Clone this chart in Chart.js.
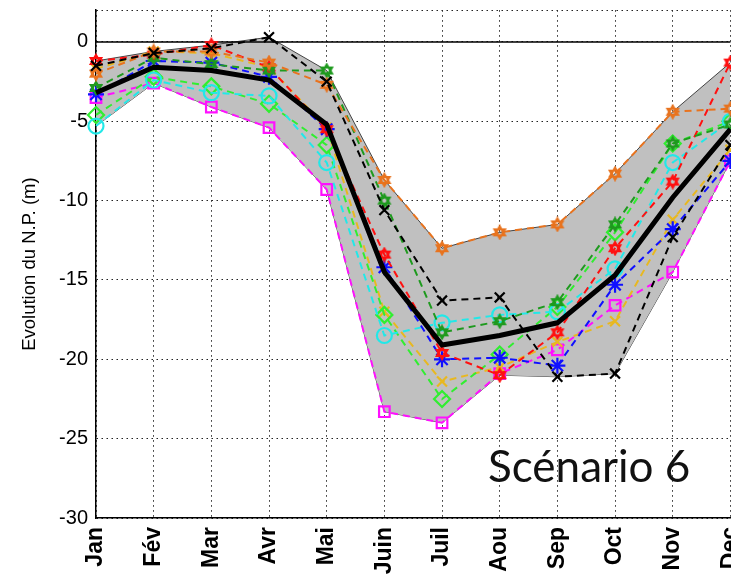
<!DOCTYPE html>
<html>
<head>
<meta charset="utf-8">
<script src="https://cdn.jsdelivr.net/npm/chart.js@4/dist/chart.umd.min.js"></script>
<style>
  html, body { margin: 0; padding: 0; background: #fff; overflow: hidden; }
  #wrap { width: 767px; height: 581px; }
</style>
</head>
<body>
<div id="wrap"><canvas id="npChart" width="767" height="581"></canvas></div>
<script>
// months and y ticks
const months = ['Jan', 'Fév', 'Mar', 'Avr', 'Mai', 'Juin', 'Juil', 'Aou', 'Sep', 'Oct', 'Nov', 'Dec'];
const yTicks = [-30, -25, -20, -15, -10, -5, 0, 2];

// one array per run (m)
const blackX    = [-1.5, -0.7, -0.4,  0.3, -2.5, -10.6, -16.3, -16.1, -21.1, -20.9, -12.3, -6.5];
const orange    = [-2.0, -0.6, -0.6, -1.3, -2.7,  -8.7, -13.0, -12.0, -11.5,  -8.3,  -4.4, -4.2];
const darkGreen = [-2.9, -1.0, -1.4, -1.8, -1.8, -10.0, -18.3, -17.6, -16.4, -11.5,  -6.4, -5.2];
const red       = [-1.2, -0.8, -0.2, -1.6, -5.5, -13.4, -19.6, -21.0, -18.3, -13.0,  -8.8, -1.3];
const blue      = [-3.3, -1.2, -1.3, -2.2, -5.5, -14.2, -20.0, -19.9, -20.4, -15.3, -11.8, -7.5];
const cyan      = [-5.3, -2.4, -3.2, -3.4, -7.6, -18.5, -17.7, -17.2, -17.0, -14.3,  -7.6, -5.0];
const green     = [-4.6, -2.2, -2.8, -3.9, -6.5, -17.2, -22.5, -19.7, -16.7, -12.0,  -6.4, -5.0];
const yellow    = [-1.7, -0.6, -0.7, -1.6, -5.4, -17.0, -21.4, -20.5, -18.9, -17.6, -11.2, -6.8];
const magenta   = [-3.5, -2.6, -4.1, -5.4, -9.3, -23.3, -24.0, -20.9, -19.4, -16.6, -14.5, -7.5];
const mean      = [-3.2, -1.6, -1.8, -2.4, -5.2, -14.5, -19.1, -18.5, -17.7, -14.7,  -9.8, -5.5];

const runs = [blackX, orange, darkGreen, red, blue, cyan, green, yellow, magenta];
const upper = months.map((m, i) => Math.max(...runs.map(r => r[i])));
const lower = months.map((m, i) => Math.min(...runs.map(r => r[i])));

// matlab-like hexagram marker
function hexagram(color) {
    const c = document.createElement('canvas');
    c.width = 16; c.height = 16;
    const g = c.getContext('2d');
    g.strokeStyle = color;
    g.lineWidth = 2.2;
    [-Math.PI / 2, Math.PI / 2].forEach(a0 => {
        g.beginPath();
        for (let k = 0; k < 3; k++) {
            const a = a0 + k * 2 * Math.PI / 3;
            const x = 8 + 6 * Math.cos(a), y = 8 + 6 * Math.sin(a);
            k ? g.lineTo(x, y) : g.moveTo(x, y);
        }
        g.closePath();
        g.stroke();
    });
    return c;
}

function run(data, color, style, radius) {
    return {
        data: data,
        borderColor: color,
        backgroundColor: 'rgba(0,0,0,0)',
        borderWidth: 2,
        borderDash: [7, 5],
        pointStyle: style,
        pointRadius: radius,
        pointBorderColor: color,
        pointBorderWidth: 2.2,
        fill: false
    };
}

const scenarioText = {
    id: 'scenarioText',
    afterDraw(chart) {
        const ctx = chart.ctx;
        ctx.save();
        ctx.font = '44px Lato';
        ctx.fillStyle = '#111';
        ctx.textBaseline = 'alphabetic';
        ctx.fillText('Scénario 6', 488, 482);
        ctx.restore();
    }
};

new Chart(document.getElementById('npChart'), {
    type: 'line',
    data: {
        labels: months,
        datasets: [
            { data: mean, borderColor: '#000', borderWidth: 5, pointRadius: 0, fill: false },
            run(blackX, '#000000', 'crossRot', 7),
            run(orange, '#E8731E', hexagram('#E8731E'), 8),
            run(darkGreen, '#1E9A1E', hexagram('#1E9A1E'), 8),
            run(red, '#FF1010', hexagram('#FF1010'), 8),
            run(blue, '#1010FF', 'star', 8),
            run(cyan, '#22E8E8', 'circle', 7.5),
            run(green, '#30EE30', 'rectRot', 8),
            run(yellow, '#E8B820', 'crossRot', 7),
            run(magenta, '#FF10FF', 'rect', 7.5),
            { data: months.map(() => 0), borderColor: '#000', borderWidth: 1.5, pointRadius: 0, fill: false },
            { data: upper, borderColor: '#444', borderWidth: 1, pointRadius: 0, fill: '+1', backgroundColor: '#C0C0C0' },
            { data: lower, borderColor: '#444', borderWidth: 1, pointRadius: 0, fill: false }
        ]
    },
    options: {
        responsive: false,
        animation: false,
        layout: { padding: { left: 0, right: 12, top: 10, bottom: 0 } },
        plugins: { legend: { display: false }, tooltip: { enabled: false } },
        scales: {
            x: {
                offset: false,
                z: 1,
                grid: { color: '#222', lineWidth: 1, drawTicks: false },
                border: { display: true, color: '#000', width: 1.5, dash: [1.5, 3.5] },
                ticks: {
                    minRotation: 90, maxRotation: 90, padding: 9, color: '#000',
                    font: { family: 'Liberation Sans', size: 23, weight: 'bold' }
                },
                afterFit: s => { s.height = 63; }
            },
            y: {
                min: -30,
                max: 2,
                z: 1,
                afterBuildTicks: s => { s.ticks = yTicks.map(v => ({ value: v })); },
                grid: { color: '#222', lineWidth: 1, drawTicks: false },
                border: { display: true, color: '#000', width: 1.5, dash: [1.5, 3.5] },
                ticks: {
                    padding: 8, color: '#000',
                    font: { family: 'Liberation Sans', size: 20 },
                    callback: v => (v % 5 === 0 ? v : '')
                },
                title: {
                    display: true, text: 'Evolution du N.P. (m)', color: '#000',
                    font: { family: 'Liberation Sans', size: 18.5 },
                    padding: { top: 19, bottom: 0 }
                },
                afterFit: s => { s.width = 96; s.paddingTop = 0; s.paddingBottom = 0; }
            }
        }
    },
    plugins: [scenarioText]
});
</script>
</body>
</html>
